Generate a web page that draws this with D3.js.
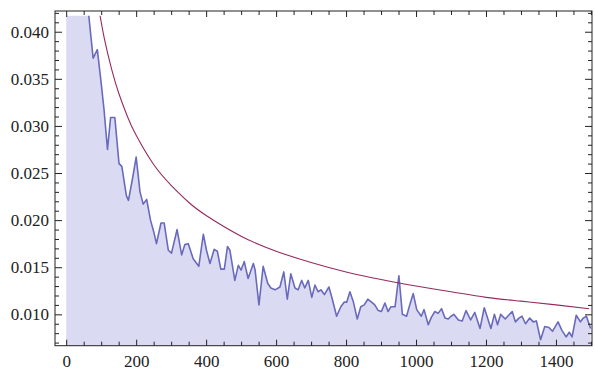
<!DOCTYPE html>
<html>
<head>
<meta charset="utf-8">
<script src="https://cdn.jsdelivr.net/npm/d3@7"></script>
<style>
    body { margin: 0; background: #ffffff; }
    svg { display: block; }
    .tick line { stroke: #222222; }
</style>
</head>
<body>
<div id="chart"></div>
<script>
/** sample positions of the noisy series */
const sampleX = [0, 30, 50, 77, 89, 98, 108, 118, 127, 139, 151, 159, 172, 178, 190, 200,
    211, 220, 230, 241, 250, 258, 271, 280, 292, 301, 317, 330, 339, 349, 363, 379,
    392, 401, 411, 423, 432, 442, 452, 461, 468, 482, 492, 500, 509, 520, 535, 540,
    551, 563, 576, 585, 597, 611, 622, 632, 642, 654, 663, 673, 682, 692, 702, 711,
    720, 728, 738, 751, 760, 773, 785, 795, 802, 811, 821, 832, 842, 852, 862, 873,
    882, 892, 901, 911, 920, 928, 940, 951, 961, 973, 982, 992, 1002, 1015, 1023, 1035,
    1044, 1054, 1063, 1073, 1083, 1092, 1100, 1108, 1121, 1132, 1143, 1156, 1168, 1183,
    1195, 1202, 1214, 1224, 1233, 1242, 1255, 1262, 1275, 1284, 1294, 1303, 1313, 1325,
    1335, 1344, 1356, 1368, 1380, 1390, 1406, 1417, 1429, 1438, 1446, 1458, 1470, 1478,
    1487, 1499]

/** noisy series values */
const sampleY = [0.065, 0.055, 0.047, 0.0372, 0.0381, 0.0352, 0.0318, 0.0275, 0.0309, 0.0309,
    0.0260, 0.0257, 0.0226, 0.0221, 0.0245, 0.0267,
    0.0230, 0.0217, 0.0222, 0.0200, 0.0188, 0.0175, 0.0197, 0.0197, 0.0168, 0.0165,
    0.0190, 0.0163, 0.0174, 0.0175, 0.0159, 0.0151,
    0.0185, 0.0168, 0.0154, 0.0169, 0.0167, 0.0148, 0.0148, 0.0172, 0.0168, 0.0136,
    0.0152, 0.0147, 0.0156, 0.0138, 0.0154, 0.0147,
    0.0110, 0.0151, 0.0133, 0.0128, 0.0126, 0.0129, 0.0145, 0.0116, 0.0143, 0.0128,
    0.0126, 0.0136, 0.0128, 0.0136, 0.0118, 0.0131,
    0.0124, 0.0126, 0.0121, 0.0129, 0.0117, 0.0098, 0.0108, 0.0113, 0.0113, 0.0124,
    0.0113, 0.0095, 0.0108, 0.0110, 0.0116, 0.0113,
    0.0110, 0.0104, 0.0103, 0.0112, 0.0103, 0.0108, 0.0108, 0.0141, 0.0100, 0.0098,
    0.0110, 0.0122, 0.0105, 0.0098, 0.0105, 0.0089,
    0.0097, 0.0103, 0.0101, 0.0106, 0.0096, 0.0095, 0.0098, 0.0100, 0.0094, 0.0093,
    0.0104, 0.0094, 0.0102, 0.0085,
    0.0107, 0.0099, 0.0085, 0.0100, 0.0089, 0.0100, 0.0095, 0.0098, 0.0103, 0.0092,
    0.0096, 0.0098, 0.0090, 0.0096,
    0.0092, 0.0093, 0.0073, 0.0087, 0.0086, 0.0082, 0.0092, 0.0083, 0.0076, 0.0081,
    0.0076, 0.0099, 0.0092, 0.0096,
    0.0098, 0.0085]

/** smooth reference curve */
const curveX = [95, 110, 130, 150, 175, 200, 250, 300, 350, 400, 500, 600, 700, 800,
    900, 1000, 1100, 1200, 1300, 1400, 1495]
const curveY = [0.0421, 0.0391, 0.0360, 0.0335, 0.0310, 0.0290, 0.0259, 0.0237, 0.0219,
    0.0205, 0.0183, 0.0167, 0.0155, 0.0145, 0.0137, 0.0130, 0.0124, 0.0118, 0.0114,
    0.0110, 0.0106]

/** tick labels */
const xTicks = [0, 200, 400, 600, 800, 1000, 1200, 1400]
const xMinorTicks = [50, 100, 150, 250, 300, 350, 450, 500, 550, 650, 700, 750, 850, 900,
    950, 1050, 1100, 1150, 1250, 1300, 1350, 1450, 1500]
const yTicks = [0.010, 0.015, 0.020, 0.025, 0.030, 0.035, 0.040]
const yMinorTicks = [0.007, 0.008, 0.009, 0.011, 0.012, 0.013, 0.014, 0.016, 0.017, 0.018,
    0.019, 0.021, 0.022, 0.023, 0.024, 0.026, 0.027, 0.028, 0.029, 0.031, 0.032, 0.033,
    0.034, 0.036, 0.037, 0.038, 0.039, 0.041, 0.042]

const width = 595
const height = 371
const frame = { left: 55, right: 592, top: 11, bottom: 345.7 }
/** plotted range: data is clipped here */
const clipTop = 0.0417

const svg = d3.select("#chart").append("svg")
    .attr("width", width)
    .attr("height", height)

const xScale = d3.scaleLinear()
    .domain([-32, 1503])
    .range([frame.left, frame.right])

const yScale = d3.scaleLinear()
    .domain([0.00667, 0.0422])
    .range([frame.bottom, frame.top])

const data = sampleX.map((x, i) => ({ x: x, y: sampleY[i] }))
const curve = curveX.map((x, i) => ({ x: x, y: curveY[i] }))

// clip region
svg.append("clipPath")
    .attr("id", "plotClip")
    .append("rect")
    .attr("x", frame.left)
    .attr("y", yScale(clipTop))
    .attr("width", frame.right - frame.left)
    .attr("height", frame.bottom - yScale(clipTop))

const plot = svg.append("g").attr("clip-path", "url(#plotClip)")

// filling below the noisy series
plot.append("path")
    .datum(data)
    .attr("fill", "#dbdaf3")
    .attr("stroke", "none")
    .attr("d", d3.area()
        .x(d => xScale(d.x))
        .y0(frame.bottom)
        .y1(d => yScale(d.y)))

// noisy series
plot.append("path")
    .datum(data)
    .attr("fill", "none")
    .attr("stroke", "#6a6abd")
    .attr("stroke-width", 1.6)
    .attr("stroke-linejoin", "round")
    .attr("d", d3.line()
        .x(d => xScale(d.x))
        .y(d => yScale(d.y)))

// smooth curve
plot.append("path")
    .datum(curve)
    .attr("fill", "none")
    .attr("stroke", "#962a5e")
    .attr("stroke-width", 1.1)
    .attr("d", d3.line()
        .curve(d3.curveNatural)
        .x(d => xScale(d.x))
        .y(d => yScale(d.y)))

/** draws one set of ticks on a frame side */
function drawTicks(axis, transform, values, size, format) {
    const g = svg.append("g")
        .attr("transform", transform)
        .call(axis.tickValues(values).tickSize(size)
            .tickFormat(format ?? (() => "")))
    g.select(".domain").remove()
    g.selectAll("text")
        .style("font-family", "'Liberation Serif'")
        .style("font-size", "17px")
        .style("fill", "#222222")
    return g
}

// bottom axis
drawTicks(d3.axisBottom(xScale).tickPadding(9), `translate(0,${frame.bottom})`, xTicks, -6, d3.format("d"))
drawTicks(d3.axisBottom(xScale), `translate(0,${frame.bottom})`, xMinorTicks, -4)
// top mirror
drawTicks(d3.axisTop(xScale), `translate(0,${frame.top})`, xTicks, -6)
drawTicks(d3.axisTop(xScale), `translate(0,${frame.top})`, xMinorTicks, -4)

// left axis
drawTicks(d3.axisLeft(yScale).tickPadding(6), `translate(${frame.left},0)`, yTicks, -7, d3.format(".3f"))
drawTicks(d3.axisLeft(yScale), `translate(${frame.left},0)`, yMinorTicks, -4)
// right mirror
drawTicks(d3.axisRight(yScale), `translate(${frame.right},0)`, yTicks, -7)
drawTicks(d3.axisRight(yScale), `translate(${frame.right},0)`, yMinorTicks, -4)

// frame
svg.append("rect")
    .attr("x", frame.left)
    .attr("y", frame.top)
    .attr("width", frame.right - frame.left)
    .attr("height", frame.bottom - frame.top)
    .attr("fill", "none")
    .attr("stroke", "#222222")
    .attr("stroke-width", 1)
</script>
</body>
</html>
